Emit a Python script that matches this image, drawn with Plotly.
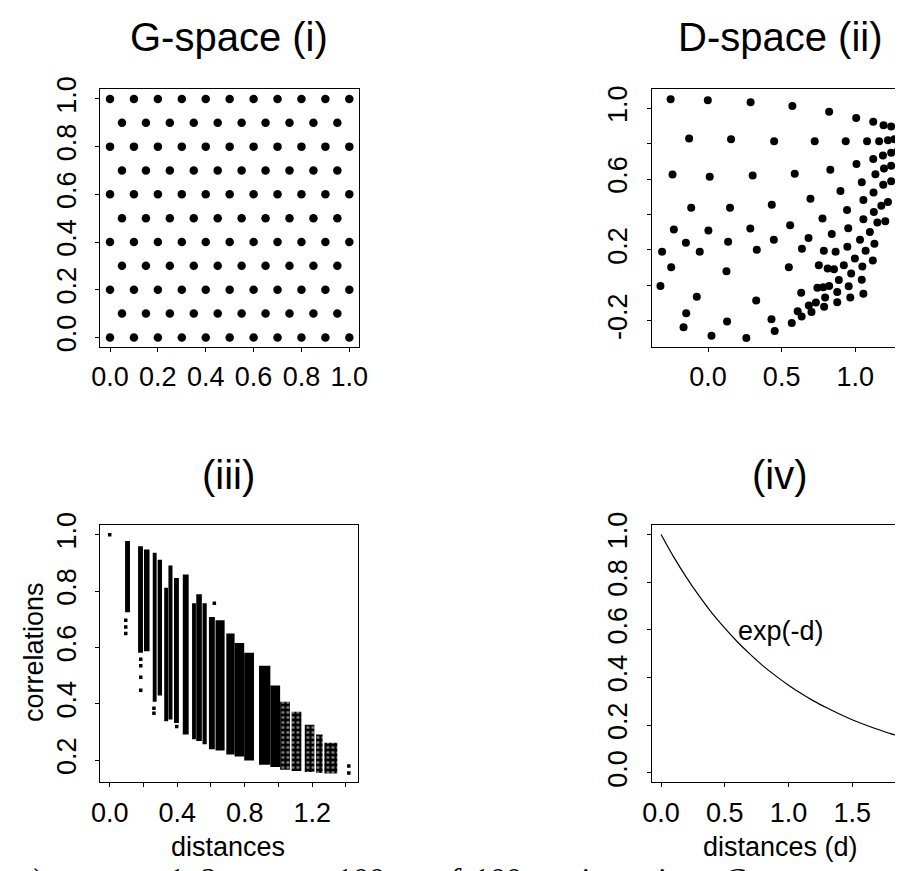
import plotly.graph_objects as go

W, H = 904, 871

# ---------------- data ----------------
# (i) G-space: triangular grid of sites
g_rows_y = [0.0, 0.1, 0.2, 0.3, 0.4, 0.5, 0.6, 0.7, 0.8, 0.9, 1.0]
g_even_x = [0.0, 0.1, 0.2, 0.3, 0.4, 0.5, 0.6, 0.7, 0.8, 0.9, 1.0]
g_odd_x = [0.05, 0.15, 0.25, 0.35, 0.45, 0.55, 0.65, 0.75, 0.85, 0.95]

# (ii) D-space coordinates
d_x = [-0.255, -0.002, 0.289, 0.573, 0.823, 1.007, 1.123, 1.193, 1.245,
       -0.129, 0.156, 0.449, 0.725, 0.936, 1.081, 1.163, 1.223, 1.267,
       -0.242, 0.011, 0.303, 0.589, 0.831, 1.009, 1.123, 1.189, 1.245, 1.289,
       -0.115, 0.149, 0.433, 0.696, 0.900, 1.045, 1.138, 1.196, 1.245,
       -0.233, 0.002, 0.287, 0.558, 0.778, 0.945, 1.056, 1.125, 1.191, 1.245,
       -0.151, 0.136, 0.447, 0.683, 0.841, 0.953, 1.056, 1.127, 1.178, 1.223,
       -0.313, -0.057, 0.331, 0.638, 0.787, 0.867, 0.947, 1.033, 1.100, 1.151, 1.205,
       -0.251, 0.125, 0.549, 0.753, 0.813, 0.856, 0.923, 0.998, 1.071, 1.131,
       -0.324, -0.077, 0.327, 0.633, 0.743, 0.783, 0.823, 0.889, 0.973, 1.049, 1.120,
       -0.149, -0.167, 0.129, 0.023, 0.260, 0.431, 0.453, 0.569, 0.609, 0.636,
       0.685, 0.703, 0.733, 0.789, 0.796, 0.878, 0.878, 0.956, 0.967, 1.056, 1.045]
d_y = [1.051, 1.046, 1.035, 1.013, 0.980, 0.946, 0.924, 0.904, 0.897,
       0.830, 0.825, 0.814, 0.814, 0.814, 0.814, 0.814, 0.819, 0.825,
       0.626, 0.614, 0.620, 0.631, 0.653, 0.686, 0.714, 0.734, 0.749, 0.757,
       0.439, 0.439, 0.456, 0.489, 0.533, 0.583, 0.627, 0.660, 0.675,
       0.316, 0.310, 0.321, 0.340, 0.377, 0.426, 0.482, 0.524, 0.569, 0.588,
       0.240, 0.246, 0.257, 0.268, 0.290, 0.323, 0.373, 0.415, 0.450, 0.471,
       0.190, 0.190, 0.201, 0.207, 0.196, 0.190, 0.218, 0.257, 0.301, 0.355, 0.362,
       0.102, 0.080, 0.102, 0.113, 0.095, 0.091, 0.113, 0.152, 0.196, 0.235,
       -0.003, -0.064, -0.086, -0.042, -0.014, -0.011, -0.003, 0.030, 0.067, 0.106, 0.141,
       -0.158, -0.236, -0.204, -0.285, -0.298, -0.192, -0.258, -0.213, -0.146, -0.176,
       -0.114, -0.150, -0.097, -0.121, -0.069, -0.095, -0.038, -0.005, -0.069, -0.047, 0.032]

# (iii) distance vs correlation: dense bands (distance range, correlation range)
band_d_lo = [0.091, 0.168, 0.203, 0.255, 0.284, 0.323, 0.348, 0.381, 0.433, 0.488, 0.513,
             0.550, 0.588, 0.627, 0.691, 0.740, 0.797, 0.885, 0.952, 1.010, 1.078, 1.156,
             1.223, 1.272]
band_d_hi = [0.120, 0.197, 0.236, 0.278, 0.310, 0.346, 0.372, 0.410, 0.468, 0.511, 0.546,
             0.575, 0.623, 0.681, 0.740, 0.797, 0.855, 0.952, 1.010, 1.068, 1.136, 1.213,
             1.262, 1.349]
band_c_lo = [0.725, 0.581, 0.587, 0.407, 0.430, 0.338, 0.344, 0.332, 0.291, 0.274, 0.268,
             0.257, 0.239, 0.234, 0.220, 0.213, 0.199, 0.184, 0.176, 0.166, 0.162, 0.158,
             0.155, 0.153]
band_c_hi = [0.978, 0.959, 0.948, 0.936, 0.911, 0.812, 0.891, 0.847, 0.859, 0.757, 0.789,
             0.757, 0.708, 0.697, 0.650, 0.616, 0.581, 0.535, 0.465, 0.407, 0.372, 0.326,
             0.291, 0.262]
band_sparse = [False] * 19 + [True] * 5
pt_d = [0.0, 0.095, 0.095, 0.095, 0.184, 0.184, 0.184, 0.184, 0.262, 0.262, 0.397,
        0.620, 1.417, 1.417]
pt_c = [1.0, 0.697, 0.673, 0.650, 0.558, 0.535, 0.494, 0.448, 0.384, 0.367, 0.320,
        0.757, 0.179, 0.155]

# (iv) exp(-d) curve
curve_d = [0.0, 0.1, 0.2, 0.3, 0.4, 0.5, 0.6, 0.7, 0.8, 0.9, 1.0, 1.1, 1.2, 1.3,
           1.4, 1.5, 1.6, 1.7, 1.8, 1.88]
curve_c = [1.000, 0.905, 0.819, 0.741, 0.670, 0.607, 0.549, 0.497, 0.449, 0.407,
           0.368, 0.333, 0.301, 0.273, 0.247, 0.223, 0.202, 0.183, 0.165, 0.153]

# ---------------- figure ----------------
gx, gy = [], []
for i, yv in enumerate(g_rows_y):
    xs = g_even_x if i % 2 == 0 else g_odd_x
    for xv in xs:
        gx.append(xv)
        gy.append(yv)

fig = go.Figure()
fig.add_trace(go.Scatter(x=gx, y=gy, mode="markers", xaxis="x", yaxis="y",
                         marker=dict(size=8.5, color="black"), hoverinfo="skip"))
fig.add_trace(go.Scatter(x=d_x, y=d_y, mode="markers", xaxis="x2", yaxis="y2",
                         marker=dict(size=8, color="black"), hoverinfo="skip"))

for sparse in (False, True):
    idx = [i for i, s in enumerate(band_sparse) if s == sparse]
    lo = [band_d_lo[i] for i in idx]
    hi = [band_d_hi[i] for i in idx]
    clo = [band_c_lo[i] for i in idx]
    chi = [band_c_hi[i] for i in idx]
    mk = dict(color="black", line=dict(width=0))
    if sparse:
        mk = dict(color="black", line=dict(width=0),
                  pattern=dict(shape=".", fgcolor="white", bgcolor="black", size=5, solidity=0.3))
    fig.add_trace(go.Bar(x=[(a + b) / 2 for a, b in zip(lo, hi)],
                         width=[b - a for a, b in zip(lo, hi)],
                         base=clo, y=[b - a for a, b in zip(clo, chi)],
                         xaxis="x3", yaxis="y3", marker=mk, hoverinfo="skip"))
fig.add_trace(go.Scatter(x=pt_d, y=pt_c, mode="markers", xaxis="x3", yaxis="y3",
                         marker=dict(size=3.5, color="black", symbol="square"), hoverinfo="skip"))
fig.add_trace(go.Scatter(x=curve_d, y=curve_c, mode="lines", xaxis="x4", yaxis="y4",
                         line=dict(color="black", width=1.2, shape="spline"), hoverinfo="skip"))

FONT = "Liberation Sans, Arial, sans-serif"
TICK = 27
tickfont = dict(family=FONT, size=TICK, color="black")


def ax(domain, rng, tickvals, ticktext, anchor, mirror=True, ylab=False):
    d = dict(domain=domain, range=rng, tickvals=tickvals, ticktext=ticktext,
             anchor=anchor, showline=True, linecolor="black", linewidth=1,
             mirror=mirror, ticks="outside", ticklen=4, tickwidth=1, tickcolor="black",
             showgrid=False, zeroline=False, tickfont=tickfont, fixedrange=True)
    if ylab:
        d["tickangle"] = -90
        d["ticklabelstandoff"] = 9
    else:
        d["ticklabelstandoff"] = 2
    return d


def xd(a, b):
    return [a / W, min(b / W, 1.0)]


def yd(top, bot):
    return [1 - bot / H, 1 - top / H]


left_box = xd(93.3, 357)
right_box = xd(655.7, 904)
top_box = yd(78, 341)
bot_box = yd(522.7, 785.7)

v02 = [0.0, 0.2, 0.4, 0.6, 0.8, 1.0]
t02 = ["0.0", "0.2", "0.4", "0.6", "0.8", "1.0"]

fig.update_layout(
    width=W, height=H, margin=dict(l=0, r=0, t=0, b=0),
    paper_bgcolor="white", plot_bgcolor="white", showlegend=False,
    barmode="overlay",
    xaxis=ax(left_box, [-0.04, 1.04], v02, t02, "y"),
    yaxis=ax(top_box, [-0.04, 1.04], v02, t02, "x", ylab=True),
    xaxis2=ax(right_box, [-0.384, 1.271], [0.0, 0.5, 1.0], ["0.0", "0.5", "1.0"], "y2"),
    yaxis2=ax(top_box, [-0.348, 1.107], [-0.2, 0.0, 0.2, 0.4, 0.6, 0.8, 1.0],
              ["-0.2", "", "0.2", "", "0.6", "", "1.0"], "x2", mirror=False, ylab=True),
    xaxis3=ax(xd(93.3, 356), [-0.055, 1.471], [0.0, 0.2, 0.4, 0.6, 0.8, 1.0, 1.2, 1.4],
              ["0.0", "", "0.4", "", "0.8", "", "1.2", ""], "y3"),
    yaxis3=ax(bot_box, [0.121, 1.035], [0.2, 0.4, 0.6, 0.8, 1.0],
              ["0.2", "0.4", "0.6", "0.8", "1.0"], "x3", ylab=True),
    xaxis4=ax(right_box, [-0.074, 1.836], [0.0, 0.5, 1.0, 1.5], ["0.0", "0.5", "1.0", "1.5"], "y4"),
    yaxis4=ax(bot_box, [-0.04, 1.04], v02, t02, "x4", mirror=False, ylab=True),
)

annots = []


def note(text, px, py, size, angle=0, family=FONT, xanchor="center", yanchor="middle", style="normal"):
    annots.append(dict(text=text, x=px / W, y=1 - py / H, xref="paper", yref="paper",
                       showarrow=False, textangle=angle, xanchor=xanchor, yanchor=yanchor,
                       font=dict(family=family, size=size, color="black", style=style)))


note("G-space (i)", 224, 25, 40)
note("D-space (ii)", 787, 25, 40)
note("(iii)", 224, 472, 40)
note("(iv)", 787, 472, 40)
note("distances", 223, 852, 27)
note("distances (d)", 787, 852, 27)
note("correlations", 25, 653, 27, angle=-90)
annots.append(dict(text="exp(-d)", x=0.588, y=0.593, xref="x4", yref="y4", showarrow=False,
                   xanchor="left", yanchor="middle",
                   font=dict(family=FONT, size=27, color="black")))

# partially visible caption below the figure
SERIF = "Liberation Serif, DejaVu Serif, serif"
for txt, cx in [(")", 27), ("at", 84), ("1,", 173), ("2,", 206), ("100", 357),
                ("of", 447), ("100", 497), ("sites", 598), ("in", 673), ("G", 740)]:
    note(txt, cx, 864, 32, family=SERIF, yanchor="top", style="italic")

fig.update_layout(annotations=annots)
fig.write_html("out.html")
